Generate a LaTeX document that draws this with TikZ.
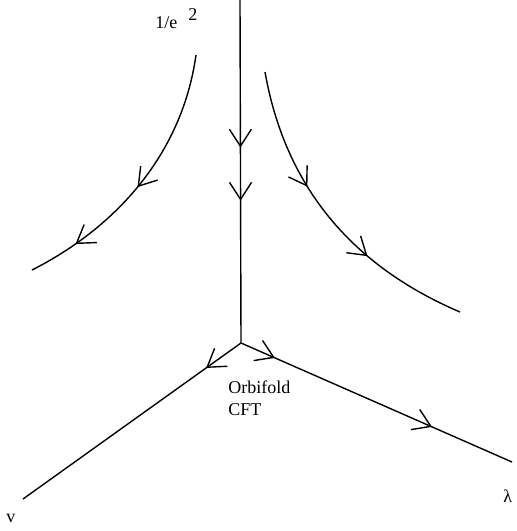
\documentclass[tikz,border=0pt]{standalone}
\usepackage{fontspec}
\setmainfont{Liberation Serif}
\usetikzlibrary{arrows.meta,decorations.markings}

\tikzset{
  barb/.tip={Straight Barb[length=8.5pt,width=11pt]},
  tip at/.style={postaction={decorate,decoration={markings,
      mark=at position #1 with {\arrow{barb}}}}},
  flowline/.style={line width=0.7pt},
  lbl/.style={inner sep=0pt, font=\fontsize{9}{11}\selectfont}
}

\begin{document}
\begin{tikzpicture}[x=0.5pt, y=-0.5pt]
  \useasboundingbox (0,0) rectangle (516,531);

  % fixed point and the ends of the flows
  \coordinate (cft) at (241,343);
  \coordinate (top) at (240,0);
  \coordinate (vend) at (23,499);
  \coordinate (lamend) at (512,462);
  \coordinate (la) at (196,55);
  \coordinate (lb) at (32,270);
  \coordinate (ra) at (265,72);
  \coordinate (rb) at (460,312);

  % axes
  \draw[flowline, tip at=0.43, tip at=0.585] (top) -- (cft);
  \draw[flowline, tip at=0.16] (cft) -- (vend);
  \draw[flowline, tip at=0.125, tip at=0.705] (cft) -- (lamend);

  % flows near the top
  \draw[flowline, tip at=0.52, tip at=0.82] (la) .. controls (182,155) and (115,228) .. (lb);
  \draw[flowline, tip at=0.38, tip at=0.665] (ra) .. controls (285,185) and (350,265) .. (rb);

  % labels
  \node[lbl, anchor=base west] (coup) at (155,28) {1/e};
  \node[lbl, anchor=base west] (sq) at (188,20) {2};
  \node[lbl, anchor=north west, align=left] (orb) at (228,380) {Orbifold\\CFT};
  \node[lbl, anchor=base west] (vlab) at (6,522) {v};
  \node[lbl, anchor=base west] (lam) at (503,502) {λ};
\end{tikzpicture}
\end{document}
